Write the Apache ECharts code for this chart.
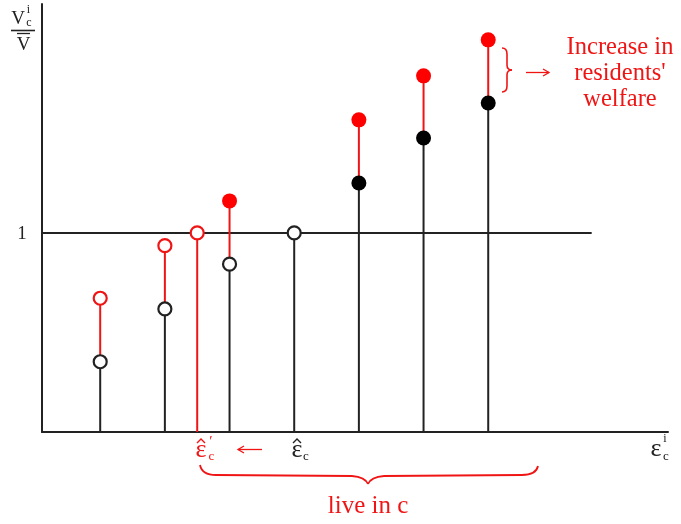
<!DOCTYPE html>
<html>
<head>
<meta charset="utf-8">
<script src="https://cdn.jsdelivr.net/npm/echarts@6/dist/echarts.min.js"></script>
<style>
html,body{margin:0;padding:0;background:#fff;}
#main{width:681px;height:524px;}
</style>
</head>
<body>
<div id="main"></div>
<script>
// ---- data ----
const stemX       = [0.9, 1.9, 2.9, 3.9, 4.9, 5.9, 6.9];          // individual positions (epsilon)
const welfareBefore = [0.353, 0.618, 0.843, 1.0, 1.251, 1.477, 1.653]; // black markers
const welfareAfter  = [0.672, 0.936, 1.161, null, 1.568, 1.789, 1.970]; // red markers
const beforeOpen  = [true, true, true, true, false, false, false];
const afterOpen   = [true, true, false, false, false, false, false];
const newThresholdX = 2.4;   // epsilon-hat-prime
const newThresholdY = 1.0;
const oneLine = [[0, 1], [8.5, 1]];
const xMax = 9.68, yMax = 2.15;

const BLACK = '#222222';
const RED = '#f01515';
const SERIF = '"Liberation Serif", "DejaVu Serif", serif';

// stems
const blackStems = stemX.map((x, i) => [x, 0, welfareBefore[i]]);
const redStems = stemX.map((x, i) => welfareAfter[i] == null ? null : [x, welfareBefore[i], welfareAfter[i]]).filter(Boolean);
redStems.push([newThresholdX, 0, newThresholdY]);

function stemRender(color) {
  return function (params, api) {
    const p0 = api.coord([api.value(0), api.value(1)]);
    const p1 = api.coord([api.value(0), api.value(2)]);
    return { type: 'line', shape: { x1: p0[0], y1: p0[1], x2: p1[0], y2: p1[1] },
      style: { stroke: color, lineWidth: 2 } };
  };
}

const blackOpenPts = [], blackFillPts = [], redOpenPts = [], redFillPts = [];
stemX.forEach((x, i) => {
  (beforeOpen[i] ? blackOpenPts : blackFillPts).push([x, welfareBefore[i]]);
  if (welfareAfter[i] != null) (afterOpen[i] ? redOpenPts : redFillPts).push([x, welfareAfter[i]]);
});
redOpenPts.push([newThresholdX, newThresholdY]);

function txt(text, x, y, size, color, align) {
  return { type: 'text', x: x, y: y, z: 100,
    style: { text: text, fontSize: size, fontFamily: SERIF, fill: color,
      align: align || 'center', verticalAlign: 'middle' } };
}
function hat(x, y, color) {
  return { type: 'polyline', z: 100, shape: { points: [[x - 4, y + 3], [x, y - 1], [x + 4, y + 3]] },
    style: { stroke: color, lineWidth: 1.4, fill: null } };
}
function seg(x1, y1, x2, y2, color, w) {
  return { type: 'line', z: 100, shape: { x1, y1, x2, y2 }, style: { stroke: color, lineWidth: w } };
}
function quad(x1, y1, cx, cy, x2, y2, color, w) {
  return { type: 'bezierCurve', z: 100, shape: { x1, y1, x2, y2, cpx1: cx, cpy1: cy },
    style: { stroke: color, lineWidth: w, fill: null } };
}
function arrow(x1, x2, y, color) {
  // head at x2
  const d = x2 > x1 ? -1 : 1;
  return [seg(x1, y, x2, y, color, 1.3),
    { type: 'polyline', z: 100, shape: { points: [[x2 + d * 6, y - 3.5], [x2, y], [x2 + d * 6, y + 3.5]] },
      style: { stroke: color, lineWidth: 1.3, fill: null } }];
}

const chart = echarts.init(document.getElementById('main'), null, { renderer: 'canvas' });
chart.setOption({
  backgroundColor: '#fff',
  animation: false,
  grid: { left: 42, right: 13, top: 4, bottom: 92, containLabel: false },
  xAxis: { type: 'value', min: 0, max: xMax,
    axisLine: { show: true, lineStyle: { color: BLACK, width: 2 } },
    axisTick: { show: false }, axisLabel: { show: false }, splitLine: { show: false } },
  yAxis: { type: 'value', min: 0, max: yMax,
    axisLine: { show: true, lineStyle: { color: BLACK, width: 2 } },
    axisTick: { show: false }, axisLabel: { show: false }, splitLine: { show: false } },
  series: [
    { type: 'line', data: oneLine, symbol: 'none', lineStyle: { color: BLACK, width: 2 }, z: 1 },
    { type: 'custom', data: blackStems, renderItem: stemRender(BLACK), z: 2 },
    { type: 'custom', data: redStems, renderItem: stemRender(RED), z: 2 },
    { type: 'scatter', data: blackOpenPts, symbol: 'circle', symbolSize: 13, z: 5,
      itemStyle: { color: '#fff', borderColor: BLACK, borderWidth: 2.2, opacity: 1 } },
    { type: 'scatter', data: blackFillPts, symbol: 'circle', symbolSize: 15, z: 5,
      itemStyle: { color: '#000', opacity: 1 } },
    { type: 'scatter', data: redOpenPts, symbol: 'circle', symbolSize: 13, z: 5,
      itemStyle: { color: '#fff', borderColor: RED, borderWidth: 2.2, opacity: 1 } },
    { type: 'scatter', data: redFillPts, symbol: 'circle', symbolSize: 15, z: 5,
      itemStyle: { color: '#ff0000', opacity: 1 } }
  ],
  graphic: [].concat(
    // y-axis label  V^i_c / V-bar
    txt('V', 18, 19, 19, BLACK),
    txt('i', 28.5, 10, 12, BLACK),
    txt('c', 29, 23, 12, BLACK),
    seg(11, 30.5, 35, 30.5, BLACK, 1.6),
    seg(17, 33.5, 30, 33.5, BLACK, 1.3),
    txt('V', 23.5, 45, 19, BLACK),
    // "1"
    txt('1', 22, 234, 19, BLACK),
    // x-axis label epsilon^i_c
    txt('ε', 656, 449, 26, BLACK),
    txt('i', 665, 439, 12, BLACK),
    txt('c', 666, 457, 13, BLACK),
    // epsilon-hat-prime_c (red)
    txt('ε', 201, 450, 26, RED),
    hat(201, 440, RED),
    txt('\u2032', 211, 442, 15, RED),
    txt('c', 211.5, 457, 13, RED),
    arrow(262, 238, 449.5, RED),
    // epsilon-hat_c (black)
    txt('ε', 297, 450, 26, BLACK),
    hat(297, 440, BLACK),
    txt('c', 306, 457, 13, BLACK),
    // bottom brace
    quad(200, 465, 202, 475, 216, 475, RED, 1.8),
    seg(216, 475, 352, 476, RED, 1.8),
    quad(352, 476, 365, 477, 368, 484, RED, 1.8),
    quad(368, 484, 371, 477, 384, 476, RED, 1.8),
    seg(384, 476, 522, 475, RED, 1.8),
    quad(522, 475, 536, 475, 538, 466, RED, 1.8),
    txt('live in c', 368, 506, 25, RED),
    // right brace, arrow, text
    quad(502, 48, 507, 48, 507, 54, RED, 1.6),
    seg(507, 54, 507, 65, RED, 1.6),
    quad(507, 65, 507, 70, 512, 70, RED, 1.6),
    quad(512, 70, 507, 70, 507, 75, RED, 1.6),
    seg(507, 75, 507, 86, RED, 1.6),
    quad(507, 86, 507, 92, 502, 92, RED, 1.6),
    arrow(526, 549, 72.5, RED),
    txt('Increase in', 620, 47.5, 24.5, RED),
    txt('residents\'', 620, 73.5, 24.5, RED),
    txt('welfare', 620, 99.5, 24.5, RED)
  )
});
</script>
</body>
</html>
